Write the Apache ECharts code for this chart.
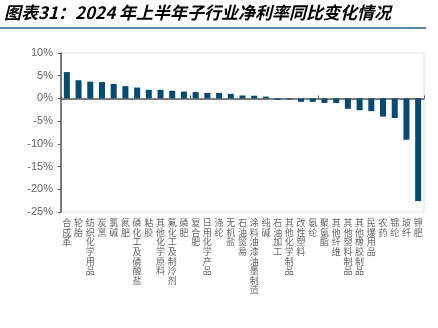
<!DOCTYPE html>
<html>
<head>
<meta charset="utf-8">
<script src="https://cdn.jsdelivr.net/npm/echarts@6/dist/echarts.min.js"></script>
<style>
  html, body { margin: 0; padding: 0; background: #fff; }
  #chart { width: 438px; height: 328px; }
</style>
</head>
<body>
<div id="chart"></div>
<script>
// Sub-industries and their YoY change in net margin, H1 2024 (percentage points)
const industries = [
  '合成革', '轮胎', '纺织化学用品', '炭黑', '氯碱', '氮肥', '磷化工及磷酸盐', '粘胶',
  '其他化学原料', '氟化工及制冷剂', '磷肥', '复合肥', '日用化学产品', '涤纶', '无机盐',
  '石油贸易', '涂料油漆油墨制造', '纯碱', '石油加工', '其他化学制品', '改性塑料', '氨纶',
  '聚氨酯', '其他纤维', '其他塑料制品', '其他橡胶制品', '民爆用品', '农药', '锦纶', '玻纤', '钾肥'
];
const marginChange = [
  5.8, 4.0, 3.7, 3.6, 3.2, 2.7, 2.4, 1.9,
  1.9, 1.7, 1.5, 1.4, 1.2, 1.2, 1.0,
  0.65, 0.6, 0.4, -0.3, -0.2, -0.75, -0.75,
  -1.0, -1.0, -2.3, -2.6, -2.8, -4.0, -4.3, -9.1, -22.6
];
const yTicks = { min: -25, max: 10, step: 5 };

// Stack characters so category names read top-to-bottom
const vertical = s => s.split('').join('\n');
const verticalNames = industries.map(vertical);

const chart = echarts.init(document.getElementById('chart'));
chart.setOption({
  animation: false,
  textStyle: { fontFamily: 'Arial, "Liberation Sans", "Noto Sans CJK SC", sans-serif' },
  graphic: [
    {
      type: 'text',
      left: 4, top: 4,
      style: {
        text: '图表31：2024 年上半年子行业净利率同比变化情况',
        font: 'italic bold 17px "Noto Sans CJK SC", sans-serif',
        fill: '#000'
      }
    },
    {
      type: 'line',
      shape: { x1: 0, y1: 28, x2: 426, y2: 28 },
      style: { stroke: '#5b84a6', lineWidth: 2 }
    }
  ],
  grid: {
    left: 61, right: 14, top: 53, bottom: 116,
    show: true, borderColor: '#e0e0e0', borderWidth: 1
  },
  xAxis: [
    {
      type: 'category',
      data: industries,
      axisLine: { onZero: true, lineStyle: { color: '#555', width: 1.5 } },
      axisTick: { show: true, inside: true, length: 3, lineStyle: { color: '#555' } },
      axisLabel: { show: false }
    },
    {
      type: 'category',
      data: verticalNames,
      position: 'bottom',
      axisLine: { show: false, onZero: false },
      axisTick: { show: false },
      axisLabel: {
        interval: 0,
        margin: 6,
        color: '#666',
        fontSize: 9,
        lineHeight: 9.6,
        width: 10,
        overflow: 'break',
        hideOverlap: false,
        fontFamily: '"Noto Sans CJK SC", sans-serif',
        verticalAlign: 'top'
      }
    }
  ],
  yAxis: {
    type: 'value',
    min: yTicks.min, max: yTicks.max, interval: yTicks.step,
    axisLine: { show: true, lineStyle: { color: '#555', width: 1.5 } },
    axisTick: { show: true, length: 3, lineStyle: { color: '#555' } },
    splitLine: { show: false },
    axisLabel: { color: '#666', fontSize: 11, margin: 8, formatter: '{value}%' }
  },
  series: [{
    type: 'bar',
    xAxisIndex: 0,
    data: marginChange,
    barWidth: 6,
    itemStyle: { color: '#054a72' }
  }]
});
</script>
</body>
</html>
